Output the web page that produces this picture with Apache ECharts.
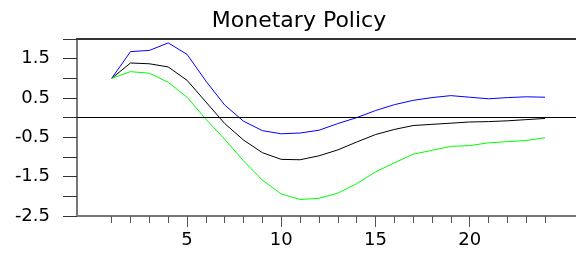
<!DOCTYPE html>
<html>
<head>
<meta charset="utf-8">
<script src="https://cdn.jsdelivr.net/npm/echarts@6/dist/echarts.min.js"></script>
<style>
  html, body { margin: 0; padding: 0; background: #fff; }
  #main { width: 576px; height: 257px; }
</style>
</head>
<body>
<div id="main"></div>
<script>
// periods 1..24
var periods = [];
for (var i = 1; i <= 24; i++) periods.push(String(i));

// upper band (blue)
var upperBand = [1.0, 1.68, 1.71, 1.90, 1.61, 0.93, 0.32, -0.09, -0.33, -0.41, -0.39, -0.32,
    -0.15, 0.0, 0.18, 0.33, 0.44, 0.51, 0.56, 0.52, 0.48, 0.51, 0.53, 0.52];
// response (black)
var response = [1.0, 1.39, 1.37, 1.29, 0.95, 0.40, -0.15, -0.57, -0.89, -1.06, -1.07, -0.97,
    -0.82, -0.62, -0.43, -0.30, -0.20, -0.17, -0.14, -0.11, -0.10, -0.08, -0.05, -0.02];
// lower band (green)
var lowerBand = [1.0, 1.17, 1.13, 0.90, 0.52, -0.04, -0.55, -1.10, -1.59, -1.94, -2.08, -2.05,
    -1.92, -1.68, -1.38, -1.15, -0.93, -0.83, -0.73, -0.71, -0.64, -0.61, -0.58, -0.51];

var FONT = 'DejaVu Sans';
var chart = echarts.init(document.getElementById('main'));

var isMajor = function (idx) { return (idx + 1) % 5 === 0; };

var option = {
    animation: false,
    backgroundColor: '#fff',
    title: {
        text: 'Monetary Policy',
        left: 294,
        textAlign: 'center',
        top: 5,
        textStyle: { fontFamily: FONT, fontSize: 22, fontWeight: 'normal', color: '#000' }
    },
    grid: [
        // frame
        { left: 77, right: 0, top: 39, bottom: 41 },
        // data area: period 1 .. period 24
        { left: 111.7, right: 31, top: 39, bottom: 41 }
    ],
    xAxis: [
        {
            gridIndex: 0, type: 'value', min: 0, max: 1, position: 'bottom',
            axisLine: { onZero: false, lineStyle: { color: '#777', width: 2 } },
            axisTick: { show: false }, axisLabel: { show: false }, splitLine: { show: false }
        },
        {
            gridIndex: 0, type: 'value', min: 0, max: 1, position: 'top',
            axisLine: { onZero: false, lineStyle: { color: '#333', width: 2 } },
            axisTick: { show: false }, axisLabel: { show: false }, splitLine: { show: false }
        },
        {
            gridIndex: 1, type: 'category', data: periods, boundaryGap: false, position: 'bottom',
            axisLine: { show: false, onZero: false },
            axisTick: { interval: 0, length: 7, lineStyle: { color: '#555' } },
            axisLabel: { show: false }
        },
        {
            gridIndex: 1, type: 'category', data: periods, boundaryGap: false, position: 'bottom',
            axisLine: { show: false, onZero: false },
            axisTick: { interval: isMajor, length: 11, lineStyle: { color: '#555' } },
            axisLabel: {
                interval: isMajor, margin: 15,
                fontFamily: FONT, fontSize: 18, color: '#000'
            }
        }
    ],
    yAxis: [
        {
            gridIndex: 0, type: 'value', min: -2.5, max: 2, interval: 0.5,
            axisLine: { show: true, lineStyle: { color: '#777', width: 2 } },
            axisTick: { show: true, length: 14, lineStyle: { color: '#333' } },
            axisLabel: {
                margin: 27, fontFamily: FONT, fontSize: 18, color: '#000',
                formatter: function (v) {
                    return Math.round(v * 2) % 2 !== 0 ? String(v) : '';
                }
            },
            splitLine: { show: false }
        },
        { gridIndex: 1, type: 'value', min: -2.5, max: 2, show: false }
    ],
    series: [
        {
            type: 'line', xAxisIndex: 0, yAxisIndex: 0, data: [], silent: true,
            markLine: {
                silent: true, symbol: 'none', label: { show: false },
                lineStyle: { color: '#000', width: 1, type: 'solid' },
                data: [{ yAxis: 0 }]
            }
        },
        {
            name: 'upper', type: 'line', xAxisIndex: 2, yAxisIndex: 1, data: upperBand,
            showSymbol: false, lineStyle: { color: '#0000ff', width: 1 }
        },
        {
            name: 'response', type: 'line', xAxisIndex: 2, yAxisIndex: 1, data: response,
            showSymbol: false, lineStyle: { color: '#000000', width: 1 }
        },
        {
            name: 'lower', type: 'line', xAxisIndex: 2, yAxisIndex: 1, data: lowerBand,
            showSymbol: false, lineStyle: { color: '#00ff00', width: 1 }
        }
    ]
};

chart.setOption(option);
</script>
</body>
</html>
